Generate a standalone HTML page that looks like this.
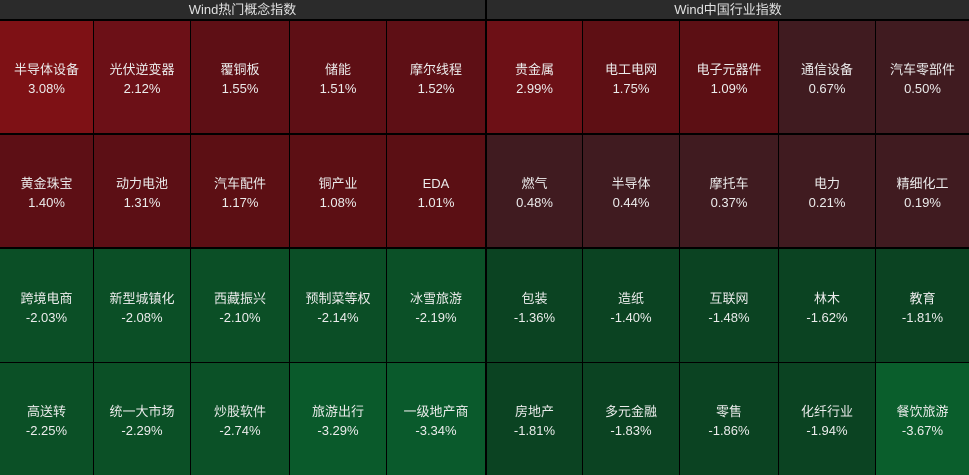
<!DOCTYPE html>
<html><head><meta charset="utf-8">
<style>
html,body{margin:0;padding:0;}
body{width:969px;height:464px;overflow:hidden;background:#000;position:relative;font-family:"Liberation Sans","Noto Sans CJK SC",sans-serif;}
.h{position:absolute;top:0;height:19px;background:#2b2b2b;color:#e0e0e0;font-size:13px;line-height:19px;text-align:center;}
.c{position:absolute;display:flex;flex-direction:column;justify-content:center;align-items:center;color:#ececec;font-size:13px;line-height:19px;box-sizing:border-box;padding-top:4px;}
.c span{display:block;white-space:nowrap;}
</style></head><body>
<div class="h" style="left:0;width:485px;">Wind热门概念指数</div>
<div class="h" style="left:487px;width:482px;">Wind中国行业指数</div>

<!-- Row 1 -->
<div class="c" style="left:0;top:21px;width:93px;height:112px;background:#7e1115"><span>半导体设备</span><span>3.08%</span></div>
<div class="c" style="left:94px;top:21px;width:96px;height:112px;background:#6c1017"><span>光伏逆变器</span><span>2.12%</span></div>
<div class="c" style="left:191px;top:21px;width:98px;height:112px;background:#5e0f15"><span>覆铜板</span><span>1.55%</span></div>
<div class="c" style="left:290px;top:21px;width:96px;height:112px;background:#5e0f15"><span>储能</span><span>1.51%</span></div>
<div class="c" style="left:387px;top:21px;width:98px;height:112px;background:#5e0f15"><span>摩尔线程</span><span>1.52%</span></div>
<div class="c" style="left:487px;top:21px;width:95px;height:112px;background:#6d1016"><span>贵金属</span><span>2.99%</span></div>
<div class="c" style="left:583px;top:21px;width:96px;height:112px;background:#5e0f14"><span>电工电网</span><span>1.75%</span></div>
<div class="c" style="left:680px;top:21px;width:98px;height:112px;background:#5c0f14"><span>电子元器件</span><span>1.09%</span></div>
<div class="c" style="left:779px;top:21px;width:96px;height:112px;background:#401b20"><span>通信设备</span><span>0.67%</span></div>
<div class="c" style="left:876px;top:21px;width:93px;height:112px;background:#401b20"><span>汽车零部件</span><span>0.50%</span></div>

<!-- Row 2 -->
<div class="c" style="left:0;top:135px;width:93px;height:112px;background:#5d0f15"><span>黄金珠宝</span><span>1.40%</span></div>
<div class="c" style="left:94px;top:135px;width:96px;height:112px;background:#5c0f15"><span>动力电池</span><span>1.31%</span></div>
<div class="c" style="left:191px;top:135px;width:98px;height:112px;background:#5c0f14"><span>汽车配件</span><span>1.17%</span></div>
<div class="c" style="left:290px;top:135px;width:96px;height:112px;background:#5c0f14"><span>铜产业</span><span>1.08%</span></div>
<div class="c" style="left:387px;top:135px;width:98px;height:112px;background:#5b0f14"><span>EDA</span><span>1.01%</span></div>
<div class="c" style="left:487px;top:135px;width:95px;height:112px;background:#401b20"><span>燃气</span><span>0.48%</span></div>
<div class="c" style="left:583px;top:135px;width:96px;height:112px;background:#401b20"><span>半导体</span><span>0.44%</span></div>
<div class="c" style="left:680px;top:135px;width:98px;height:112px;background:#401b20"><span>摩托车</span><span>0.37%</span></div>
<div class="c" style="left:779px;top:135px;width:96px;height:112px;background:#401b20"><span>电力</span><span>0.21%</span></div>
<div class="c" style="left:876px;top:135px;width:93px;height:112px;background:#401b20"><span>精细化工</span><span>0.19%</span></div>

<!-- Row 3 -->
<div class="c" style="left:0;top:249px;width:93px;height:113px;background:#0b4f26"><span>跨境电商</span><span>-2.03%</span></div>
<div class="c" style="left:94px;top:249px;width:96px;height:113px;background:#0b4f26"><span>新型城镇化</span><span>-2.08%</span></div>
<div class="c" style="left:191px;top:249px;width:98px;height:113px;background:#0b4f26"><span>西藏振兴</span><span>-2.10%</span></div>
<div class="c" style="left:290px;top:249px;width:96px;height:113px;background:#0b4e26"><span>预制菜等权</span><span>-2.14%</span></div>
<div class="c" style="left:387px;top:249px;width:98px;height:113px;background:#0b5027"><span>冰雪旅游</span><span>-2.19%</span></div>
<div class="c" style="left:487px;top:249px;width:95px;height:113px;background:#0b4322"><span>包装</span><span>-1.36%</span></div>
<div class="c" style="left:583px;top:249px;width:96px;height:113px;background:#0b4322"><span>造纸</span><span>-1.40%</span></div>
<div class="c" style="left:680px;top:249px;width:98px;height:113px;background:#0b4322"><span>互联网</span><span>-1.48%</span></div>
<div class="c" style="left:779px;top:249px;width:96px;height:113px;background:#0b4322"><span>林木</span><span>-1.62%</span></div>
<div class="c" style="left:876px;top:249px;width:93px;height:113px;background:#0b4322"><span>教育</span><span>-1.81%</span></div>

<!-- Row 4 -->
<div class="c" style="left:0;top:363px;width:93px;height:112px;background:#0b5026"><span>高送转</span><span>-2.25%</span></div>
<div class="c" style="left:94px;top:363px;width:96px;height:112px;background:#0b5026"><span>统一大市场</span><span>-2.29%</span></div>
<div class="c" style="left:191px;top:363px;width:98px;height:112px;background:#0b5127"><span>炒股软件</span><span>-2.74%</span></div>
<div class="c" style="left:290px;top:363px;width:96px;height:112px;background:#0a5a2b"><span>旅游出行</span><span>-3.29%</span></div>
<div class="c" style="left:387px;top:363px;width:98px;height:112px;background:#0a5a2c"><span>一级地产商</span><span>-3.34%</span></div>
<div class="c" style="left:487px;top:363px;width:95px;height:112px;background:#0b4322"><span>房地产</span><span>-1.81%</span></div>
<div class="c" style="left:583px;top:363px;width:96px;height:112px;background:#0b4322"><span>多元金融</span><span>-1.83%</span></div>
<div class="c" style="left:680px;top:363px;width:98px;height:112px;background:#0b4322"><span>零售</span><span>-1.86%</span></div>
<div class="c" style="left:779px;top:363px;width:96px;height:112px;background:#0b4322"><span>化纤行业</span><span>-1.94%</span></div>
<div class="c" style="left:876px;top:363px;width:93px;height:112px;background:#0a5e2c"><span>餐饮旅游</span><span>-3.67%</span></div>
</body></html>
